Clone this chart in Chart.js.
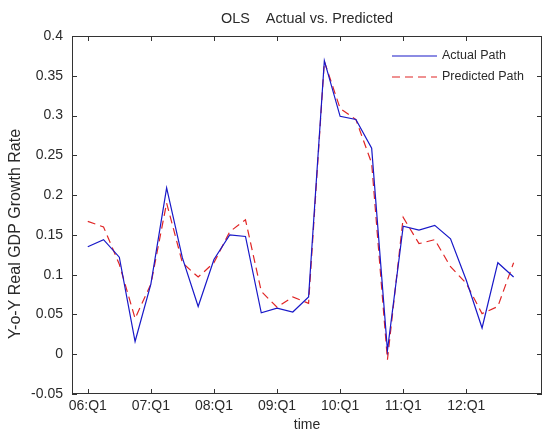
<!DOCTYPE html>
<html>
<head>
<meta charset="utf-8">
<script src="https://cdn.jsdelivr.net/npm/chart.js@4/dist/chart.umd.min.js"></script>
<style>
  html, body { margin: 0; padding: 0; background: #fff; }
  #wrap { width: 544px; height: 434px; }
</style>
</head>
<body>
<div id="wrap"><canvas id="chart"></canvas></div>
<script>
const quarters = [
	'06:Q1', '06:Q2', '06:Q3', '06:Q4',
	'07:Q1', '07:Q2', '07:Q3', '07:Q4',
	'08:Q1', '08:Q2', '08:Q3', '08:Q4',
	'09:Q1', '09:Q2', '09:Q3', '09:Q4',
	'10:Q1', '10:Q2', '10:Q3', '10:Q4',
	'11:Q1', '11:Q2', '11:Q3', '11:Q4',
	'12:Q1', '12:Q2', '12:Q3', '12:Q4'
];
const xTickLabels = ['06:Q1', '07:Q1', '08:Q1', '09:Q1', '10:Q1', '11:Q1', '12:Q1'];
const yTicks = [-0.05, 0, 0.05, 0.1, 0.15, 0.2, 0.25, 0.3, 0.35, 0.4];

const actualPath = [
	0.135, 0.144, 0.122, 0.016, 0.088, 0.209, 0.121, 0.060,
	0.119, 0.150, 0.148, 0.052, 0.058, 0.053, 0.072, 0.369,
	0.299, 0.295, 0.259, 0.005, 0.161, 0.156, 0.162, 0.145,
	0.093, 0.033, 0.115, 0.097
];
const predictedPath = [
	0.167, 0.160, 0.113, 0.045, 0.088, 0.190, 0.115, 0.097,
	0.115, 0.154, 0.169, 0.079, 0.059, 0.072, 0.064, 0.368,
	0.309, 0.295, 0.240, -0.007, 0.172, 0.139, 0.144, 0.110,
	0.089, 0.051, 0.060, 0.115
];

const FONT = '"Liberation Sans", Arial, sans-serif';
const TEXT = '#2a2a2a';
const TITLE = 'OLS    Actual vs. Predicted';
const Y_LABEL = 'Y-o-Y Real GDP Growth Rate';

function _points(values) {
	return values.map((v, i) => ({ x: i + 1, y: v }));
}

// matlab style box, inward ticks, title, legend and ylabel
const matlabAxes = {
	id: 'matlabAxes',
	afterDraw(chart) {
		const { ctx, chartArea: a, scales } = chart;
		ctx.save();
		ctx.strokeStyle = '#333';
		ctx.lineWidth = 1;
		ctx.strokeRect(a.left + 0.5, a.top + 0.5, a.right - a.left - 1, a.bottom - a.top - 1);

		ctx.beginPath();
		scales.y.ticks.forEach((t) => {
			const y = Math.round(scales.y.getPixelForValue(t.value)) + 0.5;
			ctx.moveTo(a.left, y); ctx.lineTo(a.left + 5, y);
			ctx.moveTo(a.right, y); ctx.lineTo(a.right - 5, y);
		});
		scales.x.ticks.forEach((t) => {
			const x = Math.round(scales.x.getPixelForValue(t.value)) + 0.5;
			ctx.moveTo(x, a.bottom); ctx.lineTo(x, a.bottom - 5);
			ctx.moveTo(x, a.top); ctx.lineTo(x, a.top + 5);
		});
		ctx.stroke();

		ctx.fillStyle = TEXT;
		ctx.textBaseline = 'middle';

		// title, centred over the axes
		ctx.textAlign = 'center';
		ctx.font = '14.4px ' + FONT;
		ctx.fillText(TITLE, (a.left + a.right) / 2, 19);

		// legend
		const items = chart.data.datasets;
		ctx.textAlign = 'left';
		ctx.font = '12.5px ' + FONT;
		items.forEach((ds, k) => {
			const y = 56 + k * 21;
			ctx.beginPath();
			ctx.strokeStyle = ds.borderColor;
			ctx.lineWidth = 1.2;
			ctx.setLineDash(ds.borderDash || []);
			ctx.moveTo(392, y); ctx.lineTo(437, y);
			ctx.stroke();
			ctx.setLineDash([]);
			ctx.fillText(ds.label, 442, y);
		});

		// y label
		ctx.translate(16, 234);
		ctx.rotate(-Math.PI / 2);
		ctx.textAlign = 'center';
		ctx.font = '16px ' + FONT;
		ctx.fillText(Y_LABEL, 0, 0);
		ctx.restore();
	}
};

const ctx = document.getElementById('chart').getContext('2d');
new Chart(ctx, {
	type: 'line',
	data: {
		datasets: [
			{
				label: 'Actual Path',
				data: _points(actualPath),
				borderColor: '#1818c8',
				borderWidth: 1.2,
				pointRadius: 0,
				tension: 0
			},
			{
				label: 'Predicted Path',
				data: _points(predictedPath),
				borderColor: '#e02525',
				borderWidth: 1.2,
				borderDash: [8, 5],
				pointRadius: 0,
				tension: 0
			}
		]
	},
	options: {
		responsive: true,
		maintainAspectRatio: false,
		animation: false,
		layout: { padding: { left: 0, right: 2, top: 36, bottom: 0 } },
		plugins: {
			legend: { display: false },
			tooltip: { enabled: false },
			title: { display: false }
		},
		scales: {
			x: {
				type: 'linear',
				min: 0,
				max: 29.8,
				grid: { display: false, drawTicks: false },
				border: { display: false },
				afterBuildTicks: (s) => {
					s.ticks = xTickLabels.map((l) => ({ value: quarters.indexOf(l) + 1 }));
				},
				afterFit: (s) => { s.height = 40; },
				ticks: {
					autoSkip: false,
					maxRotation: 0,
					padding: 4,
					color: TEXT,
					font: { family: FONT, size: 14 },
					callback: (v) => quarters[v - 1]
				},
				title: {
					display: true,
					text: 'time',
					color: TEXT,
					font: { family: FONT, size: 14 },
					padding: { top: 0, bottom: 0 }
				}
			},
			y: {
				min: yTicks[0],
				max: yTicks[yTicks.length - 1],
				grid: { display: false, drawTicks: false },
				border: { display: false },
				afterBuildTicks: (s) => {
					s.ticks = yTicks.map((v) => ({ value: v }));
				},
				afterFit: (s) => { s.width = 72; },
				ticks: {
					padding: 9,
					color: TEXT,
					font: { family: FONT, size: 14 },
					callback: (v) => String(parseFloat(v.toFixed(2)))
				}
			}
		}
	},
	plugins: [matlabAxes]
});
</script>
</body>
</html>
